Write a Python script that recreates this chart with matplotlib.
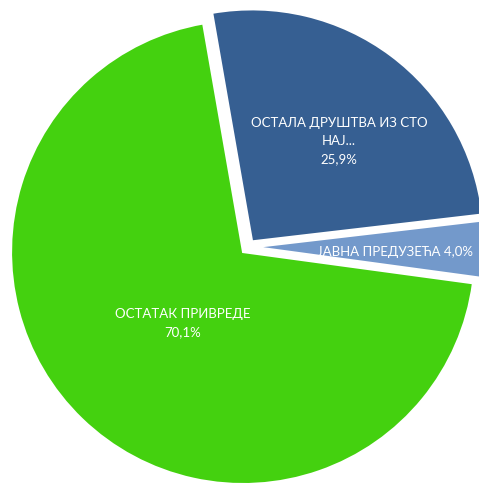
import numpy as np
import matplotlib
matplotlib.use("Agg")
import matplotlib.pyplot as plt

plt.rcParams['font.family'] = ['Lato', 'Open Sans', 'DejaVu Sans']

# podaci
kategorije = ["ОСТАЛА ДРУШТВА ИЗ СТО\nНАЈ...", "ЈАВНА ПРЕДУЗЕЋА", "ОСТАТАК ПРИВРЕДЕ"]
udeli = [25.9, 4.0, 70.1]
boje = ["#365F92", "#7399CB", "#44D10F"]

fig = plt.figure(figsize=(4.79, 4.85), dpi=100)
ax = fig.add_axes([0, 0, 1, 1])

R = 232
wedges, _ = ax.pie(udeli, colors=boje, startangle=99.9, counterclock=False,
                   radius=R, center=(247.9, 237.0), explode=[7, 7, 7],
                   wedgeprops=dict(edgecolor="white", linewidth=1.5))

# tekst u isecima (pomeraj od centra iseka, u jedinicama poluprecnika)
pomeraji = [(0.375, 0.435), (0.604, -0.017), (-0.259, -0.302)]
for w, kat, u, (dx, dy) in zip(wedges, kategorije, udeli, pomeraji):
    cx, cy = w.center
    proc = f"{u:.1f}%".replace(".", ",")
    if u < 10:
        txt = f"{kat} {proc}"
    else:
        txt = f"{kat}\n{proc}"
    ax.text(cx + dx * R, cy + dy * R, txt, ha="center", va="center",
            color="white", fontsize=9.5, linespacing=1.6)

ax.set_xlim(0, 479)
ax.set_ylim(0, 485)
ax.set_aspect("auto")
ax.axis("off")

fig.savefig("out.png", dpi=100)
